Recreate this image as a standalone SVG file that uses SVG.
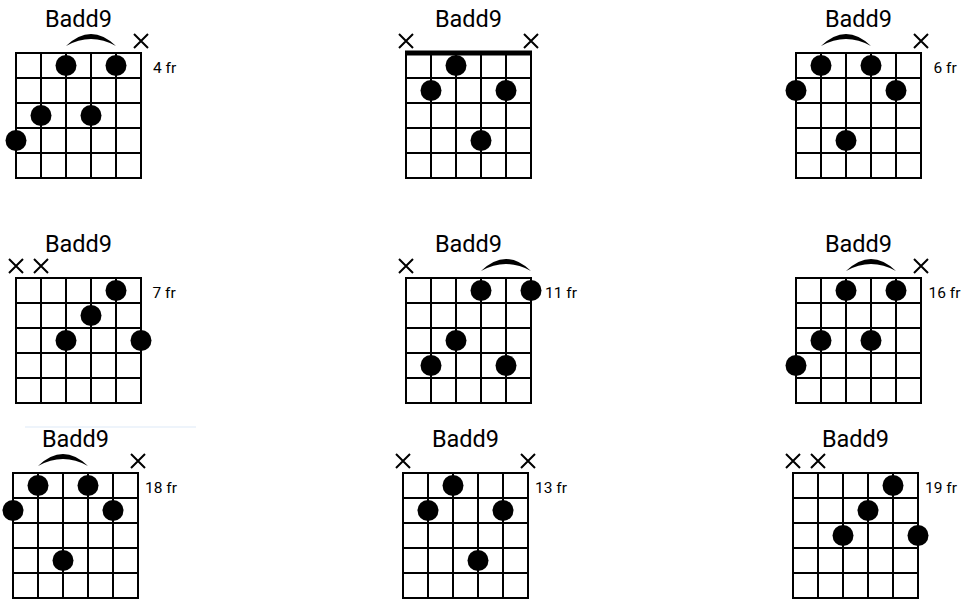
<svg xmlns="http://www.w3.org/2000/svg" xmlns:xlink="http://www.w3.org/1999/xlink" width="968" height="604" viewBox="0 0 968 604">
<style>
.grid{fill:none;stroke:#000;stroke-width:2;stroke-linecap:square}
.mute{fill:none;stroke:#000;stroke-width:2}
.dot{fill:#000}
.arc{fill:#000}
.title{font-family:Roboto,"Liberation Sans",sans-serif;font-size:23.5px;fill:#000;text-anchor:middle}
.fr{font-family:Roboto,"Liberation Sans",sans-serif;font-size:15.5px;fill:#000}
</style>
<defs>
<path id="grid" class="grid" d="M0 0H125M0 25H125M0 50H125M0 75H125M0 100H125M0 125H125M0 0V125M25 0V125M50 0V125M75 0V125M100 0V125M125 0V125"/>
<circle id="dot" class="dot" r="10.5"/>
<path id="mute" class="mute" d="M-7 -7L7 7M7 -7L-7 7"/>
<path id="arc24" class="arc" d="M25 -7Q50 -31 75 -7Q50 -21 25 -7Z"/>
<path id="arc35" class="arc" d="M50 -7Q75 -31 100 -7Q75 -21 50 -7Z"/>
<path id="arc46" class="arc" d="M75 -7Q100 -31 125 -7Q100 -21 75 -7Z"/>
</defs>
<rect width="968" height="604" fill="#fff"/>
<line x1="25" y1="427" x2="196" y2="427" stroke="#eef4fb" stroke-width="2"/>

<g id="chart1" transform="translate(16,53)">
<text class="title" x="62.5" y="-26">Badd9</text>
<use href="#arc35"/>
<use href="#mute" x="125" y="-12"/>
<use href="#grid"/>
<use href="#dot" x="50" y="12.5"/><use href="#dot" x="100" y="12.5"/>
<use href="#dot" x="25" y="62.5"/><use href="#dot" x="75" y="62.5"/>
<use href="#dot" x="0" y="87.5"/>
<text class="fr" x="137" y="19.5">4 fr</text>
</g>

<g id="chart2" transform="translate(406,53)">
<text class="title" x="62.5" y="-26">Badd9</text>
<use href="#mute" x="0" y="-12"/>
<use href="#mute" x="125" y="-12"/>
<use href="#grid"/>
<rect x="-1" y="-2.5" width="127" height="5" fill="#000"/>
<use href="#dot" x="50" y="12.5"/>
<use href="#dot" x="25" y="37.5"/><use href="#dot" x="100" y="37.5"/>
<use href="#dot" x="75" y="87.5"/>
</g>

<g id="chart3" transform="translate(796,53)">
<text class="title" x="62.5" y="-26">Badd9</text>
<use href="#arc24"/>
<use href="#mute" x="125" y="-12"/>
<use href="#grid"/>
<use href="#dot" x="25" y="12.5"/><use href="#dot" x="75" y="12.5"/>
<use href="#dot" x="0" y="37.5"/><use href="#dot" x="100" y="37.5"/>
<use href="#dot" x="50" y="87.5"/>
<text class="fr" x="137.5" y="19.5">6 fr</text>
</g>

<g id="chart4" transform="translate(16,278)">
<text class="title" x="62.5" y="-26">Badd9</text>
<use href="#mute" x="0" y="-12"/>
<use href="#mute" x="25" y="-12"/>
<use href="#grid"/>
<use href="#dot" x="100" y="12.5"/>
<use href="#dot" x="75" y="37.5"/>
<use href="#dot" x="50" y="62.5"/><use href="#dot" x="125" y="62.5"/>
<text class="fr" x="136.5" y="19.5">7 fr</text>
</g>

<g id="chart5" transform="translate(406,278)">
<text class="title" x="62.5" y="-26">Badd9</text>
<use href="#mute" x="0" y="-12"/>
<use href="#arc46"/>
<use href="#grid"/>
<use href="#dot" x="75" y="12.5"/><use href="#dot" x="125" y="12.5"/>
<use href="#dot" x="50" y="62.5"/>
<use href="#dot" x="25" y="87.5"/><use href="#dot" x="100" y="87.5"/>
<text class="fr" x="139" y="19.5">11 fr</text>
</g>

<g id="chart6" transform="translate(796,278)">
<text class="title" x="62.5" y="-26">Badd9</text>
<use href="#arc35"/>
<use href="#mute" x="125" y="-12"/>
<use href="#grid"/>
<use href="#dot" x="50" y="12.5"/><use href="#dot" x="100" y="12.5"/>
<use href="#dot" x="25" y="62.5"/><use href="#dot" x="75" y="62.5"/>
<use href="#dot" x="0" y="87.5"/>
<text class="fr" x="132.5" y="19.5">16 fr</text>
</g>

<g id="chart7" transform="translate(13,473)">
<text class="title" x="62.5" y="-26">Badd9</text>
<use href="#arc24"/>
<use href="#mute" x="125" y="-12"/>
<use href="#grid"/>
<use href="#dot" x="25" y="12.5"/><use href="#dot" x="75" y="12.5"/>
<use href="#dot" x="0" y="37.5"/><use href="#dot" x="100" y="37.5"/>
<use href="#dot" x="50" y="87.5"/>
<text class="fr" x="132" y="19.5">18 fr</text>
</g>

<g id="chart8" transform="translate(403,473)">
<text class="title" x="62.5" y="-26">Badd9</text>
<use href="#mute" x="0" y="-12"/>
<use href="#mute" x="125" y="-12"/>
<use href="#grid"/>
<use href="#dot" x="50" y="12.5"/>
<use href="#dot" x="25" y="37.5"/><use href="#dot" x="100" y="37.5"/>
<use href="#dot" x="75" y="87.5"/>
<text class="fr" x="132" y="19.5">13 fr</text>
</g>

<g id="chart9" transform="translate(793,473)">
<text class="title" x="62.5" y="-26">Badd9</text>
<use href="#mute" x="0" y="-12"/>
<use href="#mute" x="25" y="-12"/>
<use href="#grid"/>
<use href="#dot" x="100" y="12.5"/>
<use href="#dot" x="75" y="37.5"/>
<use href="#dot" x="50" y="62.5"/><use href="#dot" x="125" y="62.5"/>
<text class="fr" x="132" y="19.5">19 fr</text>
</g>

<g id="connectors"/>
</svg>
